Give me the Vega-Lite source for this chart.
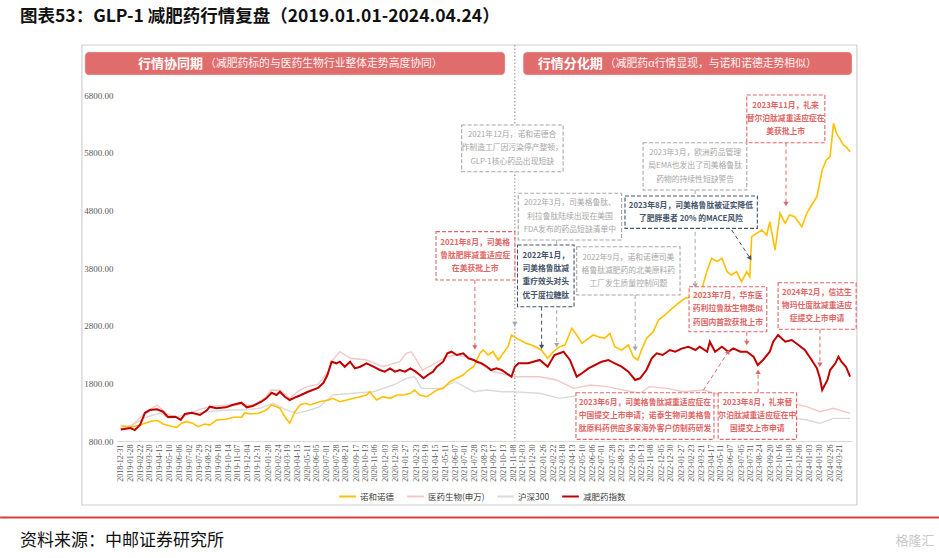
{
  "$schema": "https://vega.github.io/schema/vega-lite/v6.json",
  "width": 735,
  "height": 346,
  "autosize": {"type": "none"},
  "padding": {"left": 117, "top": 95, "right": 87, "bottom": 117},
  "background": "white",
  "config": {"view": {"stroke": null}},
  "title": {"text": "图表53：GLP-1 减肥药行情复盘（2019.01.01-2024.04.24）", "anchor": "start", "frame": "group", "dx": -97, "offset": 19, "font": "Noto Sans CJK SC", "fontSize": 17.5, "fontWeight": "bold", "color": "#111111"},
  "encoding": {
    "x": {
      "field": "d", "type": "temporal",
      "scale": {"domain": [{"year": 2018, "month": 12, "date": 23}, {"year": 2024, "month": 4, "date": 24}]},
      "axis": {
        "values": [
          {"year": 2018, "month": 12, "date": 31}, {"year": 2019, "month": 1, "date": 28}, {"year": 2019, "month": 2, "date": 22}, {"year": 2019, "month": 3, "date": 20}, {"year": 2019, "month": 4, "date": 15}, {"year": 2019, "month": 5, "date": 10}, {"year": 2019, "month": 6, "date": 6}, {"year": 2019, "month": 7, "date": 2}, {"year": 2019, "month": 7, "date": 29}, {"year": 2019, "month": 8, "date": 22}, {"year": 2019, "month": 9, "date": 18}, {"year": 2019, "month": 10, "date": 14}, {"year": 2019, "month": 11, "date": 7}, {"year": 2019, "month": 12, "date": 4}, {"year": 2019, "month": 12, "date": 31},
          {"year": 2020, "month": 1, "date": 28}, {"year": 2020, "month": 2, "date": 24}, {"year": 2020, "month": 3, "date": 19}, {"year": 2020, "month": 4, "date": 15}, {"year": 2020, "month": 5, "date": 11}, {"year": 2020, "month": 6, "date": 5}, {"year": 2020, "month": 7, "date": 1}, {"year": 2020, "month": 7, "date": 28}, {"year": 2020, "month": 8, "date": 21}, {"year": 2020, "month": 9, "date": 17}, {"year": 2020, "month": 10, "date": 13}, {"year": 2020, "month": 11, "date": 6}, {"year": 2020, "month": 12, "date": 3}, {"year": 2020, "month": 12, "date": 30},
          {"year": 2021, "month": 1, "date": 27}, {"year": 2021, "month": 2, "date": 23}, {"year": 2021, "month": 3, "date": 19}, {"year": 2021, "month": 4, "date": 15}, {"year": 2021, "month": 5, "date": 11}, {"year": 2021, "month": 6, "date": 7}, {"year": 2021, "month": 7, "date": 1}, {"year": 2021, "month": 7, "date": 28}, {"year": 2021, "month": 8, "date": 23}, {"year": 2021, "month": 9, "date": 17}, {"year": 2021, "month": 10, "date": 13}, {"year": 2021, "month": 11, "date": 8}, {"year": 2021, "month": 12, "date": 3}, {"year": 2021, "month": 12, "date": 30},
          {"year": 2022, "month": 1, "date": 26}, {"year": 2022, "month": 2, "date": 22}, {"year": 2022, "month": 3, "date": 18}, {"year": 2022, "month": 4, "date": 13}, {"year": 2022, "month": 5, "date": 10}, {"year": 2022, "month": 6, "date": 6}, {"year": 2022, "month": 7, "date": 1}, {"year": 2022, "month": 7, "date": 28}, {"year": 2022, "month": 8, "date": 23}, {"year": 2022, "month": 9, "date": 19}, {"year": 2022, "month": 10, "date": 13}, {"year": 2022, "month": 11, "date": 8}, {"year": 2022, "month": 12, "date": 5}, {"year": 2022, "month": 12, "date": 30},
          {"year": 2023, "month": 1, "date": 27}, {"year": 2023, "month": 2, "date": 23}, {"year": 2023, "month": 3, "date": 21}, {"year": 2023, "month": 4, "date": 17}, {"year": 2023, "month": 5, "date": 11}, {"year": 2023, "month": 6, "date": 7}, {"year": 2023, "month": 7, "date": 5}, {"year": 2023, "month": 7, "date": 31}, {"year": 2023, "month": 8, "date": 24}, {"year": 2023, "month": 9, "date": 20}, {"year": 2023, "month": 10, "date": 16}, {"year": 2023, "month": 11, "date": 9}, {"year": 2023, "month": 12, "date": 6},
          {"year": 2024, "month": 1, "date": 3}, {"year": 2024, "month": 1, "date": 30}, {"year": 2024, "month": 2, "date": 26}, {"year": 2024, "month": 3, "date": 21}
        ],
        "format": "%Y-%m-%d",
        "labelAngle": 270,
        "title": null,
        "grid": false,
        "ticks": false,
        "domainColor": "#D9D9D9",
        "labelFont": "Liberation Serif",
        "labelFontSize": 8,
        "labelColor": "#595959",
        "labelPadding": 3,
        "labelOverlap": false,
        "labelFlush": false,
        "labelBound": false
      }
    },
    "y": {
      "field": "v", "type": "quantitative",
      "scale": {"domain": [800, 6800], "nice": false, "zero": false},
      "axis": {"values": [800, 1800, 2800, 3800, 4800, 5800, 6800], "format": ".2f", "title": null, "domain": false, "ticks": false, "grid": false, "labelFont": "Liberation Serif", "labelFontSize": 9, "labelColor": "#595959", "labelPadding": 4}
    }
  },
  "layer": [
    {
      "data": {"values": [{"d": "2018-09-21", "d2": "2024-05-07", "v": 7667, "v2": -310}]},
      "mark": {"type": "rect", "fill": null, "stroke": "#D0D0D0", "strokeWidth": 1.2},
      "encoding": {"x2": {"field": "d2"}, "y2": {"field": "v2"}}
    },
    {
      "data": {"values": [{"d": "2018-02-16", "d2": "2024-12-11", "v": -527}]},
      "mark": {"type": "rule", "stroke": "#E03C3C", "strokeWidth": 2},
      "encoding": {"x2": {"field": "d2"}}
    },
    {
      "data": {"values": [
        {"d": "2018-09-29", "d2": "2021-10-17", "v": 7546, "v2": 7147},
        {"d": "2021-12-04", "d2": "2024-04-24", "v": 7546, "v2": 7147}
      ]},
      "mark": {"type": "rect", "fill": "#E06C6C", "cornerRadius": 4, "stroke": "#D9D9D9", "strokeWidth": 0.5},
      "encoding": {"x2": {"field": "d2"}, "y2": {"field": "v2"}}
    },
    {
      "data": {"values": [
        {"d": "2019-08-11", "v": 7346, "t": "行情协同期"},
        {"d": "2022-07-06", "v": 7346, "t": "行情分化期"}
      ]},
      "mark": {"type": "text", "align": "right", "baseline": "middle", "dx": -1, "font": "Noto Sans CJK SC", "fontSize": 13, "fontWeight": "bold", "fill": "white"},
      "encoding": {"text": {"field": "t", "type": "nominal"}}
    },
    {
      "data": {"values": [
        {"d": "2019-08-11", "v": 7346, "t": "（减肥药标的与医药生物行业整体走势高度协同）"},
        {"d": "2022-07-06", "v": 7346, "t": "（减肥药α行情显现，与诺和诺德走势相似）"}
      ]},
      "mark": {"type": "text", "align": "left", "baseline": "middle", "dx": 1, "font": "Noto Sans CJK SC", "fontSize": 10.8, "fill": "#FFF3F3"},
      "encoding": {"text": {"field": "t", "type": "nominal"}}
    },
    {
      "data": {"values": [{"d": "2021-11-12", "v": 7667, "v2": 800}]},
      "mark": {"type": "rule", "stroke": "#8C8C8C", "strokeWidth": 1, "strokeDash": [1.5, 2]},
      "encoding": {"y2": {"field": "v2"}}
    },
    {
      "data": {"values": [
        {"d": "2019-01-02", "s": "沪深300", "v": 1000},
        {"d": "2019-01-25", "s": "沪深300", "v": 1060},
        {"d": "2019-02-22", "s": "沪深300", "v": 1150},
        {"d": "2019-03-04", "s": "沪深300", "v": 1199},
        {"d": "2019-04-16", "s": "沪深300", "v": 1285},
        {"d": "2019-05-10", "s": "沪深300", "v": 1200},
        {"d": "2019-05-30", "s": "沪深300", "v": 1221},
        {"d": "2019-07-12", "s": "沪深300", "v": 1280},
        {"d": "2019-08-26", "s": "沪深300", "v": 1308},
        {"d": "2019-10-10", "s": "沪深300", "v": 1337},
        {"d": "2019-11-22", "s": "沪深300", "v": 1337},
        {"d": "2020-01-06", "s": "沪深300", "v": 1367},
        {"d": "2020-02-10", "s": "沪深300", "v": 1454},
        {"d": "2020-03-17", "s": "沪深300", "v": 1337},
        {"d": "2020-04-13", "s": "沪深300", "v": 1280},
        {"d": "2020-05-18", "s": "沪深300", "v": 1337},
        {"d": "2020-06-12", "s": "沪深300", "v": 1395},
        {"d": "2020-07-17", "s": "沪深300", "v": 1598},
        {"d": "2020-09-09", "s": "沪深300", "v": 1627},
        {"d": "2020-11-02", "s": "沪深300", "v": 1655},
        {"d": "2020-12-24", "s": "沪深300", "v": 1771},
        {"d": "2021-01-28", "s": "沪深300", "v": 1887},
        {"d": "2021-02-19", "s": "沪深300", "v": 1915},
        {"d": "2021-03-10", "s": "沪深300", "v": 1713},
        {"d": "2021-04-27", "s": "沪深300", "v": 1713},
        {"d": "2021-06-07", "s": "沪深300", "v": 1828},
        {"d": "2021-07-26", "s": "沪深300", "v": 1655},
        {"d": "2021-08-30", "s": "沪深300", "v": 1684},
        {"d": "2021-10-08", "s": "沪深300", "v": 1655},
        {"d": "2021-11-08", "s": "沪深300", "v": 1655},
        {"d": "2022-01-17", "s": "沪深300", "v": 1627},
        {"d": "2022-03-11", "s": "沪深300", "v": 1540},
        {"d": "2022-05-05", "s": "沪深300", "v": 1598},
        {"d": "2022-07-14", "s": "沪深300", "v": 1481},
        {"d": "2022-09-22", "s": "沪深300", "v": 1424},
        {"d": "2022-11-04", "s": "沪深300", "v": 1481},
        {"d": "2022-12-20", "s": "沪深300", "v": 1540},
        {"d": "2023-02-01", "s": "沪深300", "v": 1424},
        {"d": "2023-04-05", "s": "沪深300", "v": 1395},
        {"d": "2023-05-29", "s": "沪深300", "v": 1424},
        {"d": "2023-07-20", "s": "沪深300", "v": 1337},
        {"d": "2023-09-11", "s": "沪深300", "v": 1251},
        {"d": "2023-11-03", "s": "沪深300", "v": 1221},
        {"d": "2023-12-26", "s": "沪深300", "v": 1164},
        {"d": "2024-01-30", "s": "沪深300", "v": 1107},
        {"d": "2024-03-05", "s": "沪深300", "v": 1193},
        {"d": "2024-04-19", "s": "沪深300", "v": 1193}
      ]},
      "mark": {"type": "line", "strokeWidth": 1.4},
      "encoding": {
        "color": {
          "field": "s", "type": "nominal",
          "scale": {"domain": ["诺和诺德", "医药生物(申万)", "沪深300", "减肥药指数"], "range": ["#FFC000", "#F4C7C7", "#DADADA", "#C00000"]},
          "legend": {"orient": "none", "legendX": 221, "legendY": 392, "direction": "horizontal", "title": null, "symbolType": "stroke", "symbolSize": 280, "symbolStrokeWidth": 2, "labelFont": "Noto Sans CJK SC", "labelFontSize": 8.5, "labelColor": "#404040", "columnPadding": 8, "labelOffset": 3}
        }
      }
    },
    {
      "data": {"values": [
        {"d": "2019-01-02", "s": "医药生物(申万)", "v": 1010},
        {"d": "2019-01-28", "s": "医药生物(申万)", "v": 1040},
        {"d": "2019-03-07", "s": "医药生物(申万)", "v": 1290},
        {"d": "2019-04-08", "s": "医药生物(申万)", "v": 1424},
        {"d": "2019-05-07", "s": "医药生物(申万)", "v": 1260},
        {"d": "2019-06-10", "s": "医药生物(申万)", "v": 1190},
        {"d": "2019-07-09", "s": "医药生物(申万)", "v": 1300},
        {"d": "2019-08-26", "s": "医药生物(申万)", "v": 1400},
        {"d": "2019-10-25", "s": "医药生物(申万)", "v": 1430},
        {"d": "2019-12-18", "s": "医药生物(申万)", "v": 1420},
        {"d": "2020-01-23", "s": "医药生物(申万)", "v": 1560},
        {"d": "2020-02-03", "s": "医药生物(申万)", "v": 1684},
        {"d": "2020-02-28", "s": "医药生物(申万)", "v": 1680},
        {"d": "2020-03-25", "s": "医药生物(申万)", "v": 1540},
        {"d": "2020-04-21", "s": "医药生物(申万)", "v": 1684},
        {"d": "2020-05-11", "s": "医药生物(申万)", "v": 1742},
        {"d": "2020-06-08", "s": "医药生物(申万)", "v": 1780},
        {"d": "2020-07-06", "s": "医药生物(申万)", "v": 2020},
        {"d": "2020-07-17", "s": "医药生物(申万)", "v": 2205},
        {"d": "2020-08-05", "s": "医药生物(申万)", "v": 2348},
        {"d": "2020-09-01", "s": "医药生物(申万)", "v": 2234},
        {"d": "2020-10-15", "s": "医药生物(申万)", "v": 2205},
        {"d": "2020-11-27", "s": "医药生物(申万)", "v": 2088},
        {"d": "2021-01-11", "s": "医药生物(申万)", "v": 2175},
        {"d": "2021-01-28", "s": "医药生物(申万)", "v": 2320},
        {"d": "2021-02-10", "s": "医药生物(申万)", "v": 2348},
        {"d": "2021-02-24", "s": "医药生物(申万)", "v": 2205},
        {"d": "2021-03-12", "s": "医药生物(申万)", "v": 2031},
        {"d": "2021-04-08", "s": "医药生物(申万)", "v": 2118},
        {"d": "2021-05-14", "s": "医药生物(申万)", "v": 2262},
        {"d": "2021-06-11", "s": "医药生物(申万)", "v": 2291},
        {"d": "2021-07-07", "s": "医药生物(申万)", "v": 2262},
        {"d": "2021-08-11", "s": "医药生物(申万)", "v": 2147},
        {"d": "2021-09-15", "s": "医药生物(申万)", "v": 2002},
        {"d": "2021-10-21", "s": "医药生物(申万)", "v": 1944},
        {"d": "2021-11-17", "s": "医药生物(申万)", "v": 1915},
        {"d": "2022-01-17", "s": "医药生物(申万)", "v": 1915},
        {"d": "2022-03-02", "s": "医药生物(申万)", "v": 1858},
        {"d": "2022-04-18", "s": "医药生物(申万)", "v": 1713},
        {"d": "2022-05-31", "s": "医药生物(申万)", "v": 1771},
        {"d": "2022-07-14", "s": "医药生物(申万)", "v": 1742},
        {"d": "2022-08-26", "s": "医药生物(申万)", "v": 1684},
        {"d": "2022-10-10", "s": "医药生物(申万)", "v": 1627},
        {"d": "2022-11-04", "s": "医药生物(申万)", "v": 1742},
        {"d": "2022-12-20", "s": "医药生物(申万)", "v": 1713},
        {"d": "2023-02-02", "s": "医药生物(申万)", "v": 1655},
        {"d": "2023-03-27", "s": "医药生物(申万)", "v": 1684},
        {"d": "2023-05-10", "s": "医药生物(申万)", "v": 1598},
        {"d": "2023-07-03", "s": "医药生物(申万)", "v": 1568},
        {"d": "2023-08-15", "s": "医药生物(申万)", "v": 1511},
        {"d": "2023-09-28", "s": "医药生物(申万)", "v": 1568},
        {"d": "2023-11-20", "s": "医药生物(申万)", "v": 1454},
        {"d": "2023-12-26", "s": "医药生物(申万)", "v": 1395},
        {"d": "2024-01-30", "s": "医药生物(申万)", "v": 1308},
        {"d": "2024-03-06", "s": "医药生物(申万)", "v": 1367},
        {"d": "2024-04-19", "s": "医药生物(申万)", "v": 1280}
      ]},
      "mark": {"type": "line", "strokeWidth": 1.4},
      "encoding": {"color": {"field": "s", "type": "nominal"}}
    },
    {
      "data": {"values": [
        {"d": "2019-01-02", "s": "诺和诺德", "v": 1060},
        {"d": "2019-02-01", "s": "诺和诺德", "v": 1048},
        {"d": "2019-02-22", "s": "诺和诺德", "v": 1077},
        {"d": "2019-03-11", "s": "诺和诺德", "v": 1117},
        {"d": "2019-03-29", "s": "诺和诺德", "v": 1152},
        {"d": "2019-04-11", "s": "诺和诺德", "v": 1152},
        {"d": "2019-04-24", "s": "诺和诺德", "v": 1095},
        {"d": "2019-05-13", "s": "诺和诺德", "v": 1060},
        {"d": "2019-05-30", "s": "诺和诺德", "v": 1037},
        {"d": "2019-06-12", "s": "诺和诺德", "v": 1107},
        {"d": "2019-06-25", "s": "诺和诺德", "v": 1135},
        {"d": "2019-07-12", "s": "诺和诺德", "v": 1107},
        {"d": "2019-07-26", "s": "诺和诺德", "v": 1048},
        {"d": "2019-08-13", "s": "诺和诺德", "v": 1095},
        {"d": "2019-08-26", "s": "诺和诺德", "v": 1077},
        {"d": "2019-09-13", "s": "诺和诺德", "v": 1164},
        {"d": "2019-10-08", "s": "诺和诺德", "v": 1176},
        {"d": "2019-10-28", "s": "诺和诺德", "v": 1211},
        {"d": "2019-11-18", "s": "诺和诺德", "v": 1211},
        {"d": "2019-11-27", "s": "诺和诺德", "v": 1291},
        {"d": "2019-12-10", "s": "诺和诺德", "v": 1268},
        {"d": "2020-01-02", "s": "诺和诺德", "v": 1280},
        {"d": "2020-01-23", "s": "诺和诺德", "v": 1337},
        {"d": "2020-02-06", "s": "诺和诺德", "v": 1424},
        {"d": "2020-02-19", "s": "诺和诺德", "v": 1395},
        {"d": "2020-02-28", "s": "诺和诺德", "v": 1367},
        {"d": "2020-03-12", "s": "诺和诺德", "v": 1221},
        {"d": "2020-03-25", "s": "诺和诺德", "v": 1107},
        {"d": "2020-04-08", "s": "诺和诺德", "v": 1308},
        {"d": "2020-04-21", "s": "诺和诺德", "v": 1424},
        {"d": "2020-05-06", "s": "诺和诺德", "v": 1454},
        {"d": "2020-05-18", "s": "诺和诺德", "v": 1424},
        {"d": "2020-06-12", "s": "诺和诺德", "v": 1481},
        {"d": "2020-07-06", "s": "诺和诺德", "v": 1511},
        {"d": "2020-07-17", "s": "诺和诺德", "v": 1540},
        {"d": "2020-08-05", "s": "诺和诺德", "v": 1481},
        {"d": "2020-08-24", "s": "诺和诺德", "v": 1511},
        {"d": "2020-09-10", "s": "诺和诺德", "v": 1540},
        {"d": "2020-09-28", "s": "诺和诺德", "v": 1568},
        {"d": "2020-10-15", "s": "诺和诺德", "v": 1598},
        {"d": "2020-10-23", "s": "诺和诺德", "v": 1655},
        {"d": "2020-11-10", "s": "诺和诺德", "v": 1511},
        {"d": "2020-11-27", "s": "诺和诺德", "v": 1568},
        {"d": "2020-12-16", "s": "诺和诺德", "v": 1540},
        {"d": "2021-01-04", "s": "诺和诺德", "v": 1598},
        {"d": "2021-01-20", "s": "诺和诺德", "v": 1598},
        {"d": "2021-02-08", "s": "诺和诺德", "v": 1627},
        {"d": "2021-02-19", "s": "诺和诺德", "v": 1684},
        {"d": "2021-03-05", "s": "诺和诺德", "v": 1598},
        {"d": "2021-03-23", "s": "诺和诺德", "v": 1568},
        {"d": "2021-04-06", "s": "诺和诺德", "v": 1627},
        {"d": "2021-04-19", "s": "诺和诺德", "v": 1684},
        {"d": "2021-05-06", "s": "诺和诺德", "v": 1713},
        {"d": "2021-05-24", "s": "诺和诺德", "v": 1828},
        {"d": "2021-06-11", "s": "诺和诺德", "v": 1887},
        {"d": "2021-06-28", "s": "诺和诺德", "v": 1944},
        {"d": "2021-07-12", "s": "诺和诺德", "v": 2031},
        {"d": "2021-07-26", "s": "诺和诺德", "v": 2088},
        {"d": "2021-08-03", "s": "诺和诺德", "v": 2205},
        {"d": "2021-08-11", "s": "诺和诺德", "v": 2320},
        {"d": "2021-08-20", "s": "诺和诺德", "v": 2378},
        {"d": "2021-09-02", "s": "诺和诺德", "v": 2291},
        {"d": "2021-09-15", "s": "诺和诺德", "v": 2348},
        {"d": "2021-09-29", "s": "诺和诺德", "v": 2205},
        {"d": "2021-10-12", "s": "诺和诺德", "v": 2320},
        {"d": "2021-10-25", "s": "诺和诺德", "v": 2435},
        {"d": "2021-11-03", "s": "诺和诺德", "v": 2638},
        {"d": "2021-11-17", "s": "诺和诺德", "v": 2580},
        {"d": "2021-12-10", "s": "诺和诺德", "v": 2500},
        {"d": "2021-12-31", "s": "诺和诺德", "v": 2450},
        {"d": "2022-01-21", "s": "诺和诺德", "v": 2378},
        {"d": "2022-02-07", "s": "诺和诺德", "v": 2234},
        {"d": "2022-02-22", "s": "诺和诺德", "v": 2348},
        {"d": "2022-03-11", "s": "诺和诺德", "v": 2435},
        {"d": "2022-03-25", "s": "诺和诺德", "v": 2465},
        {"d": "2022-04-12", "s": "诺和诺德", "v": 2754},
        {"d": "2022-04-25", "s": "诺和诺德", "v": 2638},
        {"d": "2022-05-09", "s": "诺和诺德", "v": 2494},
        {"d": "2022-05-20", "s": "诺和诺德", "v": 2551},
        {"d": "2022-06-08", "s": "诺和诺德", "v": 2638},
        {"d": "2022-06-21", "s": "诺和诺德", "v": 2609},
        {"d": "2022-07-08", "s": "诺和诺德", "v": 2580},
        {"d": "2022-07-22", "s": "诺和诺德", "v": 2667},
        {"d": "2022-08-04", "s": "诺和诺德", "v": 2435},
        {"d": "2022-08-22", "s": "诺和诺德", "v": 2378},
        {"d": "2022-09-09", "s": "诺和诺德", "v": 2465},
        {"d": "2022-09-22", "s": "诺和诺德", "v": 2262},
        {"d": "2022-10-04", "s": "诺和诺德", "v": 2205},
        {"d": "2022-10-14", "s": "诺和诺德", "v": 2378},
        {"d": "2022-10-27", "s": "诺和诺德", "v": 2580},
        {"d": "2022-11-14", "s": "诺和诺德", "v": 2696},
        {"d": "2022-11-28", "s": "诺和诺德", "v": 2898},
        {"d": "2022-12-15", "s": "诺和诺德", "v": 2985},
        {"d": "2023-01-03", "s": "诺和诺德", "v": 3101},
        {"d": "2023-01-19", "s": "诺和诺德", "v": 3188},
        {"d": "2023-02-06", "s": "诺和诺德", "v": 3274},
        {"d": "2023-02-24", "s": "诺和诺德", "v": 3302},
        {"d": "2023-03-09", "s": "诺和诺德", "v": 3360},
        {"d": "2023-03-17", "s": "诺和诺德", "v": 3245},
        {"d": "2023-03-27", "s": "诺和诺德", "v": 3534},
        {"d": "2023-04-05", "s": "诺和诺德", "v": 3736},
        {"d": "2023-04-18", "s": "诺和诺德", "v": 3968},
        {"d": "2023-05-02", "s": "诺和诺德", "v": 3910},
        {"d": "2023-05-15", "s": "诺和诺德", "v": 3968},
        {"d": "2023-05-29", "s": "诺和诺德", "v": 3736},
        {"d": "2023-06-09", "s": "诺和诺德", "v": 3678},
        {"d": "2023-06-23", "s": "诺和诺德", "v": 3736},
        {"d": "2023-07-06", "s": "诺和诺德", "v": 3562},
        {"d": "2023-07-20", "s": "诺和诺德", "v": 3736},
        {"d": "2023-07-28", "s": "诺和诺德", "v": 3649},
        {"d": "2023-08-02", "s": "诺和诺德", "v": 4343},
        {"d": "2023-08-15", "s": "诺和诺德", "v": 4400},
        {"d": "2023-08-29", "s": "诺和诺德", "v": 4459},
        {"d": "2023-09-11", "s": "诺和诺德", "v": 4372},
        {"d": "2023-09-19", "s": "诺和诺德", "v": 4603},
        {"d": "2023-10-03", "s": "诺和诺德", "v": 4112},
        {"d": "2023-10-16", "s": "诺和诺德", "v": 4747},
        {"d": "2023-10-30", "s": "诺和诺德", "v": 4575},
        {"d": "2023-11-10", "s": "诺和诺德", "v": 4719},
        {"d": "2023-11-24", "s": "诺和诺德", "v": 4690},
        {"d": "2023-12-13", "s": "诺和诺德", "v": 4516},
        {"d": "2023-12-26", "s": "诺和诺德", "v": 4747},
        {"d": "2024-01-08", "s": "诺和诺德", "v": 4892},
        {"d": "2024-01-22", "s": "诺和诺德", "v": 5036},
        {"d": "2024-02-05", "s": "诺和诺德", "v": 5499},
        {"d": "2024-02-16", "s": "诺和诺德", "v": 5673},
        {"d": "2024-02-26", "s": "诺和诺德", "v": 5730},
        {"d": "2024-03-06", "s": "诺和诺德", "v": 6309},
        {"d": "2024-03-14", "s": "诺和诺德", "v": 6136},
        {"d": "2024-03-22", "s": "诺和诺德", "v": 6049},
        {"d": "2024-04-01", "s": "诺和诺德", "v": 5933},
        {"d": "2024-04-08", "s": "诺和诺德", "v": 5903},
        {"d": "2024-04-19", "s": "诺和诺德", "v": 5817}
      ]},
      "mark": {"type": "line", "strokeWidth": 1.6},
      "encoding": {"color": {"field": "s", "type": "nominal"}}
    },
    {
      "data": {"values": [
        {"d": "2019-01-02", "s": "减肥药指数", "v": 1000},
        {"d": "2019-01-28", "s": "减肥药指数", "v": 1025},
        {"d": "2019-02-08", "s": "减肥药指数", "v": 990},
        {"d": "2019-02-22", "s": "减肥药指数", "v": 1077},
        {"d": "2019-03-07", "s": "减肥药指数", "v": 1285},
        {"d": "2019-03-20", "s": "减肥药指数", "v": 1337},
        {"d": "2019-04-08", "s": "减肥药指数", "v": 1350},
        {"d": "2019-04-24", "s": "减肥药指数", "v": 1308},
        {"d": "2019-05-07", "s": "减肥药指数", "v": 1216},
        {"d": "2019-05-27", "s": "减肥药指数", "v": 1221},
        {"d": "2019-06-10", "s": "减肥药指数", "v": 1164},
        {"d": "2019-06-21", "s": "减肥药指数", "v": 1268},
        {"d": "2019-07-09", "s": "减肥药指数", "v": 1291},
        {"d": "2019-07-31", "s": "减肥药指数", "v": 1251},
        {"d": "2019-08-19", "s": "减肥药指数", "v": 1337},
        {"d": "2019-08-26", "s": "减肥药指数", "v": 1395},
        {"d": "2019-09-13", "s": "减肥药指数", "v": 1367},
        {"d": "2019-10-08", "s": "减肥药指数", "v": 1384},
        {"d": "2019-10-25", "s": "减肥药指数", "v": 1424},
        {"d": "2019-11-18", "s": "减肥药指数", "v": 1464},
        {"d": "2019-12-02", "s": "减肥药指数", "v": 1384},
        {"d": "2019-12-18", "s": "减肥药指数", "v": 1407},
        {"d": "2020-01-10", "s": "减肥药指数", "v": 1481},
        {"d": "2020-01-23", "s": "减肥药指数", "v": 1540},
        {"d": "2020-02-06", "s": "减肥药指数", "v": 1637},
        {"d": "2020-02-19", "s": "减肥药指数", "v": 1598},
        {"d": "2020-02-28", "s": "减肥药指数", "v": 1655},
        {"d": "2020-03-12", "s": "减肥药指数", "v": 1568},
        {"d": "2020-03-25", "s": "减肥药指数", "v": 1511},
        {"d": "2020-04-13", "s": "减肥药指数", "v": 1568},
        {"d": "2020-04-24", "s": "减肥药指数", "v": 1598},
        {"d": "2020-05-11", "s": "减肥药指数", "v": 1650},
        {"d": "2020-06-08", "s": "减肥药指数", "v": 1719},
        {"d": "2020-06-22", "s": "减肥药指数", "v": 1805},
        {"d": "2020-07-03", "s": "减肥药指数", "v": 1944},
        {"d": "2020-07-14", "s": "减肥药指数", "v": 2175},
        {"d": "2020-07-27", "s": "减肥药指数", "v": 2147},
        {"d": "2020-08-05", "s": "减肥药指数", "v": 2175},
        {"d": "2020-08-18", "s": "减肥药指数", "v": 2088},
        {"d": "2020-09-01", "s": "减肥药指数", "v": 2175},
        {"d": "2020-09-14", "s": "减肥药指数", "v": 2060},
        {"d": "2020-09-28", "s": "减肥药指数", "v": 2088},
        {"d": "2020-10-15", "s": "减肥药指数", "v": 2147},
        {"d": "2020-11-02", "s": "减肥药指数", "v": 2088},
        {"d": "2020-11-19", "s": "减肥药指数", "v": 2031},
        {"d": "2020-12-02", "s": "减肥药指数", "v": 2002},
        {"d": "2020-12-16", "s": "减肥药指数", "v": 2060},
        {"d": "2020-12-29", "s": "减肥药指数", "v": 2002},
        {"d": "2021-01-11", "s": "减肥药指数", "v": 2031},
        {"d": "2021-01-25", "s": "减肥药指数", "v": 2002},
        {"d": "2021-02-08", "s": "减肥药指数", "v": 2060},
        {"d": "2021-02-22", "s": "减肥药指数", "v": 2002},
        {"d": "2021-03-05", "s": "减肥药指数", "v": 1944},
        {"d": "2021-03-15", "s": "减肥药指数", "v": 1887},
        {"d": "2021-03-26", "s": "减肥药指数", "v": 1944},
        {"d": "2021-04-09", "s": "减肥药指数", "v": 2002},
        {"d": "2021-04-19", "s": "减肥药指数", "v": 2088},
        {"d": "2021-05-06", "s": "减肥药指数", "v": 2175},
        {"d": "2021-05-17", "s": "减肥药指数", "v": 2320},
        {"d": "2021-05-28", "s": "减肥药指数", "v": 2348},
        {"d": "2021-06-11", "s": "减肥药指数", "v": 2291},
        {"d": "2021-06-28", "s": "减肥药指数", "v": 2320},
        {"d": "2021-07-12", "s": "减肥药指数", "v": 2234},
        {"d": "2021-07-26", "s": "减肥药指数", "v": 2205},
        {"d": "2021-08-03", "s": "减肥药指数", "v": 2175},
        {"d": "2021-08-16", "s": "减肥药指数", "v": 2147},
        {"d": "2021-08-30", "s": "减肥药指数", "v": 2088},
        {"d": "2021-09-10", "s": "减肥药指数", "v": 2031},
        {"d": "2021-09-24", "s": "减肥药指数", "v": 2060},
        {"d": "2021-10-08", "s": "减肥药指数", "v": 2031},
        {"d": "2021-10-21", "s": "减肥药指数", "v": 1974},
        {"d": "2021-11-03", "s": "减肥药指数", "v": 1915},
        {"d": "2021-11-12", "s": "减肥药指数", "v": 2088},
        {"d": "2021-11-22", "s": "减肥药指数", "v": 2147},
        {"d": "2021-12-17", "s": "减肥药指数", "v": 2150},
        {"d": "2022-01-17", "s": "减肥药指数", "v": 2205},
        {"d": "2022-02-07", "s": "减肥药指数", "v": 2088},
        {"d": "2022-02-25", "s": "减肥药指数", "v": 2291},
        {"d": "2022-03-21", "s": "减肥药指数", "v": 2348},
        {"d": "2022-04-07", "s": "减肥药指数", "v": 2205},
        {"d": "2022-04-25", "s": "减肥药指数", "v": 1915},
        {"d": "2022-05-09", "s": "减肥药指数", "v": 1974},
        {"d": "2022-05-26", "s": "减肥药指数", "v": 2060},
        {"d": "2022-06-13", "s": "减肥药指数", "v": 2118},
        {"d": "2022-06-30", "s": "减肥药指数", "v": 2175},
        {"d": "2022-07-18", "s": "减肥药指数", "v": 2205},
        {"d": "2022-08-04", "s": "减肥药指数", "v": 2147},
        {"d": "2022-08-22", "s": "减肥药指数", "v": 2088},
        {"d": "2022-09-09", "s": "减肥药指数", "v": 2002},
        {"d": "2022-09-27", "s": "减肥药指数", "v": 1858},
        {"d": "2022-10-10", "s": "减肥药指数", "v": 1887},
        {"d": "2022-10-27", "s": "减肥药指数", "v": 2031},
        {"d": "2022-11-10", "s": "减肥药指数", "v": 2234},
        {"d": "2022-11-23", "s": "减肥药指数", "v": 2320},
        {"d": "2022-12-09", "s": "减肥药指数", "v": 2291},
        {"d": "2022-12-28", "s": "减肥药指数", "v": 2378},
        {"d": "2023-01-11", "s": "减肥药指数", "v": 2348},
        {"d": "2023-01-30", "s": "减肥药指数", "v": 2407},
        {"d": "2023-02-15", "s": "减肥药指数", "v": 2435},
        {"d": "2023-03-06", "s": "减肥药指数", "v": 2378},
        {"d": "2023-03-17", "s": "减肥药指数", "v": 2435},
        {"d": "2023-04-06", "s": "减肥药指数", "v": 2348},
        {"d": "2023-04-13", "s": "减肥药指数", "v": 2522},
        {"d": "2023-04-27", "s": "减肥药指数", "v": 2348},
        {"d": "2023-05-15", "s": "减肥药指数", "v": 2435},
        {"d": "2023-06-01", "s": "减肥药指数", "v": 2348},
        {"d": "2023-06-14", "s": "减肥药指数", "v": 2407},
        {"d": "2023-07-03", "s": "减肥药指数", "v": 2348},
        {"d": "2023-07-20", "s": "减肥药指数", "v": 2348},
        {"d": "2023-08-07", "s": "减肥药指数", "v": 2262},
        {"d": "2023-08-18", "s": "减肥药指数", "v": 2118},
        {"d": "2023-09-01", "s": "减肥药指数", "v": 2205},
        {"d": "2023-09-19", "s": "减肥药指数", "v": 2348},
        {"d": "2023-09-28", "s": "减肥药指数", "v": 2522},
        {"d": "2023-10-11", "s": "减肥药指数", "v": 2638},
        {"d": "2023-10-30", "s": "减肥药指数", "v": 2522},
        {"d": "2023-11-16", "s": "减肥药指数", "v": 2551},
        {"d": "2023-12-04", "s": "减肥药指数", "v": 2465},
        {"d": "2023-12-21", "s": "减肥药指数", "v": 2378},
        {"d": "2024-01-08", "s": "减肥药指数", "v": 2205},
        {"d": "2024-01-22", "s": "减肥药指数", "v": 2060},
        {"d": "2024-01-30", "s": "减肥药指数", "v": 1887},
        {"d": "2024-02-05", "s": "减肥药指数", "v": 1684},
        {"d": "2024-02-19", "s": "减肥药指数", "v": 1858},
        {"d": "2024-02-26", "s": "减肥药指数", "v": 2031},
        {"d": "2024-03-11", "s": "减肥药指数", "v": 2147},
        {"d": "2024-03-19", "s": "减肥药指数", "v": 2262},
        {"d": "2024-03-27", "s": "减肥药指数", "v": 2175},
        {"d": "2024-04-08", "s": "减肥药指数", "v": 2088},
        {"d": "2024-04-19", "s": "减肥药指数", "v": 1915}
      ]},
      "mark": {"type": "line", "strokeWidth": 2},
      "encoding": {"color": {"field": "s", "type": "nominal"}}
    },
    {
      "data": {"values": [
        {"d": "2021-07-29", "d2": "2021-07-29", "v": 3592, "v2": 2440, "kind": "r"},
        {"d": "2022-01-22", "d2": "2022-01-22", "v": 3129, "v2": 2450, "kind": "b"},
        {"d": "2022-03-03", "d2": "2022-03-03", "v": 4286, "v2": 2480, "kind": "g"},
        {"d": "2022-09-27", "d2": "2022-09-27", "v": 3332, "v2": 2420, "kind": "g"},
        {"d": "2023-11-01", "d2": "2023-11-01", "v": 5973, "v2": 4940, "kind": "r"},
        {"d": "2023-03-05", "d2": "2023-03-05", "v": 5153, "v2": 3520, "kind": "g"},
        {"d": "2023-06-10", "d2": "2023-07-29", "v": 4459, "v2": 3968, "kind": "b"},
        {"d": "2023-07-20", "d2": "2023-07-20", "v": 2695, "v2": 2520, "kind": "r"},
        {"d": "2024-01-30", "d2": "2024-01-30", "v": 2737, "v2": 2140, "kind": "r"},
        {"d": "2023-03-27", "d2": "2023-06-01", "v": 1684, "v2": 2349, "kind": "r"},
        {"d": "2023-08-19", "d2": "2023-08-19", "v": 1638, "v2": 1980, "kind": "r"}
      ]},
      "mark": {"type": "rule", "strokeWidth": 1, "strokeDash": [4, 3]},
      "encoding": {
        "x2": {"field": "d2"},
        "y2": {"field": "v2"},
        "stroke": {"field": "kind", "type": "nominal", "scale": {"domain": ["r", "g", "b"], "range": ["#E06666", "#A6A6A6", "#44546A"]}, "legend": null}
      }
    },
    {
      "data": {"values": [
        {"d": "2021-07-29", "v": 2420, "kind": "r", "a": 180},
        {"d": "2021-11-12", "v": 2830, "kind": "g", "a": 180},
        {"d": "2022-01-22", "v": 2430, "kind": "b", "a": 180},
        {"d": "2022-03-03", "v": 2460, "kind": "g", "a": 180},
        {"d": "2022-09-27", "v": 2400, "kind": "g", "a": 180},
        {"d": "2023-11-01", "v": 4910, "kind": "r", "a": 180},
        {"d": "2023-03-05", "v": 3490, "kind": "g", "a": 180},
        {"d": "2023-07-29", "v": 3968, "kind": "b", "a": 147},
        {"d": "2023-07-20", "v": 2500, "kind": "r", "a": 180},
        {"d": "2024-01-30", "v": 2120, "kind": "r", "a": 180},
        {"d": "2023-06-01", "v": 2349, "kind": "r", "a": 33},
        {"d": "2023-08-19", "v": 2000, "kind": "r", "a": 0}
      ]},
      "mark": {"type": "point", "shape": "triangle-up", "filled": true, "size": 28, "opacity": 1},
      "encoding": {
        "angle": {"field": "a", "type": "quantitative", "scale": null},
        "fill": {"field": "kind", "type": "nominal", "scale": {"domain": ["r", "g", "b"], "range": ["#E06666", "#A6A6A6", "#44546A"]}, "legend": null}
      }
    },
    {
      "data": {"values": [
        {"d": "2021-06-24", "d2": "2022-03-20", "v": 6280, "v2": 5470, "kind": "g"},
        {"d": "2021-11-21", "d2": "2022-08-22", "v": 5095, "v2": 4286, "kind": "g"},
        {"d": "2021-04-17", "d2": "2021-11-12", "v": 4430, "v2": 3592, "kind": "r"},
        {"d": "2021-11-19", "d2": "2022-04-18", "v": 4199, "v2": 3129, "kind": "b"},
        {"d": "2022-04-25", "d2": "2023-01-24", "v": 4169, "v2": 3332, "kind": "g"},
        {"d": "2023-07-20", "d2": "2024-02-12", "v": 6800, "v2": 5973, "kind": "r"},
        {"d": "2022-10-18", "d2": "2023-07-20", "v": 5973, "v2": 5153, "kind": "g"},
        {"d": "2022-08-31", "d2": "2023-08-17", "v": 5049, "v2": 4488, "kind": "b"},
        {"d": "2023-02-17", "d2": "2023-09-11", "v": 3476, "v2": 2695, "kind": "r"},
        {"d": "2023-10-11", "d2": "2024-05-05", "v": 3545, "v2": 2737, "kind": "r"},
        {"d": "2022-04-23", "d2": "2023-04-24", "v": 1638, "v2": 829, "kind": "r"},
        {"d": "2023-05-05", "d2": "2023-11-29", "v": 1638, "v2": 829, "kind": "r"}
      ]},
      "mark": {"type": "rect", "fill": "white", "fillOpacity": 0.8, "strokeWidth": 1.1, "strokeDash": [4, 2]},
      "encoding": {
        "x2": {"field": "d2"},
        "y2": {"field": "v2"},
        "stroke": {"field": "kind", "type": "nominal", "legend": null}
      }
    },
    {
      "data": {"values": [
        {"d": "2021-11-05", "v": 6106, "kind": "g", "t": "2021年12月，诺和诺德合\n作制造工厂因污染停产整顿，\nGLP-1核心药品出现短缺"},
        {"d": "2022-04-07", "v": 4921, "kind": "g", "t": "2022年3月，司美格鲁肽、\n利拉鲁肽陆续出现在美国\nFDA发布的药品短缺清单中"},
        {"d": "2022-09-09", "v": 3981, "kind": "g", "t": "2022年9月，诺和诺德司美\n格鲁肽减肥药的北美原料药\n工厂发生质量控制问题"},
        {"d": "2023-03-05", "v": 5794, "kind": "g", "t": "2023年3月，欧洲药品管理\n局EMA也发出了司美格鲁肽\n药物的持续性短缺警告"}
      ]},
      "mark": {"type": "text", "lineBreak": "\n", "align": "center", "baseline": "middle", "font": "Noto Sans CJK SC", "fontSize": 7.8, "lineHeight": 13.3},
      "encoding": {
        "text": {"field": "t", "type": "nominal"},
        "fill": {"field": "kind", "type": "nominal", "legend": null}
      }
    },
    {
      "data": {"values": [
        {"d": "2021-07-30", "v": 4242, "kind": "r", "t": "2021年8月，司美格\n鲁肽肥胖减重适应症\n在美获批上市"},
        {"d": "2022-02-02", "v": 4010, "kind": "b", "t": "2022年1月，\n司美格鲁肽减\n重疗效头对头\n优于度拉糖肽"},
        {"d": "2023-10-31", "v": 6617, "kind": "r", "t": "2023年11月，礼来\n替尔泊肽减重适应症在\n美获批上市"},
        {"d": "2023-02-22", "v": 4883, "kind": "b", "t": "2023年8月，司美格鲁肽被证实降低\n了肥胖患者 20% 的MACE风险"},
        {"d": "2023-05-31", "v": 3316, "kind": "r", "t": "2023年7月，华东医\n药利拉鲁肽生物类似\n药国内首款获批上市"},
        {"d": "2024-01-22", "v": 3372, "kind": "r", "t": "2024年2月，信达生\n物玛仕度肽减重适应\n症提交上市申请"},
        {"d": "2022-10-23", "v": 1464, "kind": "r", "t": "2023年6月，司美格鲁肽减重适应症在\n中国提交上市申请；诺泰生物司美格鲁\n肽原料药供应多家海外客户仿制药研发"},
        {"d": "2023-08-17", "v": 1464, "kind": "r", "t": "2023年8月，礼来替\n尔泊肽减重适应症在中\n国提交上市申请"}
      ]},
      "mark": {"type": "text", "lineBreak": "\n", "align": "center", "baseline": "middle", "font": "Noto Sans CJK SC", "fontSize": 7.8, "fontWeight": "bold", "lineHeight": 13.3},
      "encoding": {
        "text": {"field": "t", "type": "nominal"},
        "fill": {"field": "kind", "type": "nominal", "legend": null}
      }
    },
    {
      "data": {"values": [{"d": "2018-04-10", "v": -934, "t": "资料来源：中邮证券研究所"}]},
      "mark": {"type": "text", "align": "left", "baseline": "middle", "font": "Noto Sans CJK SC", "fontSize": 17, "fill": "#111111"},
      "encoding": {"text": {"field": "t", "type": "nominal"}}
    },
    {
      "data": {"values": [{"d": "2024-10-08", "v": -934, "t": "格隆汇"}]},
      "mark": {"type": "text", "align": "center", "baseline": "middle", "font": "Noto Sans CJK SC", "fontSize": 13, "fill": "#C8C8C8"},
      "encoding": {"text": {"field": "t", "type": "nominal"}}
    }
  ]
}
